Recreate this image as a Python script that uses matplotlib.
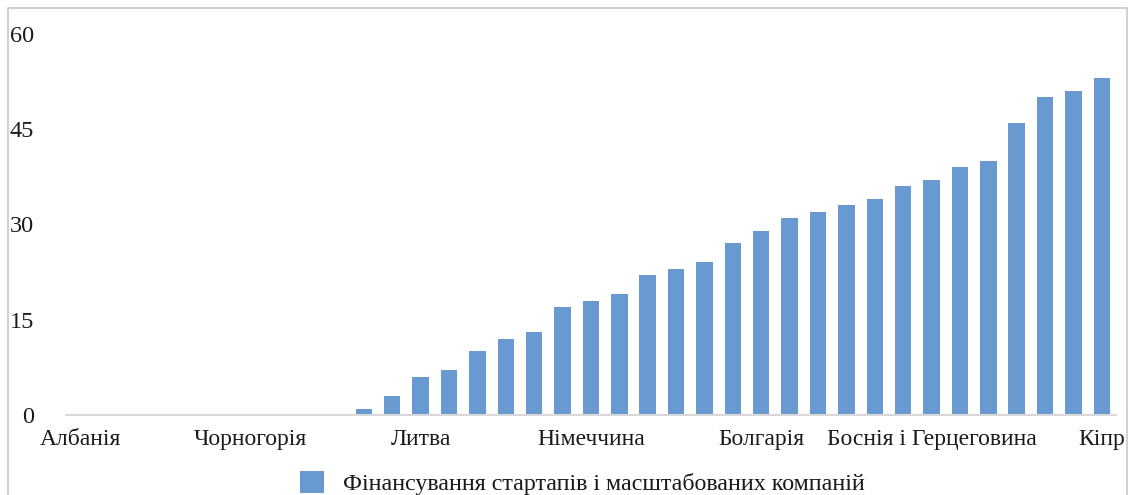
import matplotlib
matplotlib.use("Agg")
import matplotlib.pyplot as plt
from matplotlib.patches import Rectangle, Patch

# Number of countries on the axis; every sixth one carries a name
n_countries = 37
values = [0, 0, 0, 0, 0, 0, 0, 0, 0, 0,
          1, 3, 6, 7, 10, 12, 13, 17, 18, 19,
          22, 23, 24, 27, 29, 31, 32, 33, 34, 36,
          37, 39, 40, 46, 50, 51, 53]
tick_labels = ["Албанія", "Чорногорія", "Литва", "Німеччина",
               "Болгарія", "Боснія і Герцеговина", "Кіпр"]
tick_step = 6
y_ticks = [0, 15, 30, 45, 60]
series_name = "Фінансування стартапів і масштабованих компаній"

bar_color = "#6899d0"
text_color = "#1a1a1a"
font = ["Liberation Serif", "DejaVu Serif"]
plt.rcParams["font.family"] = font

W, H = 1136, 495
fig = plt.figure(figsize=(W / 100, H / 100), dpi=100)

# axes placed in pixel terms
left_px, right_px = 65.8, 1116.0
bottom_px, top_px = 415.0, 33.5
ax = fig.add_axes([left_px / W, (H - bottom_px) / H,
                   (right_px - left_px) / W, (bottom_px - top_px) / H])

x = list(range(n_countries))
ax.bar(x, values, width=0.58, color=bar_color, zorder=2)

ax.set_xlim(-0.5, n_countries - 0.5)
ax.set_ylim(0, 60)
ax.set_yticks(y_ticks)
ax.set_yticklabels([str(v) for v in y_ticks], fontsize=17.5, color=text_color)
ax.set_xticks(x[::tick_step])
ax.set_xticklabels(tick_labels, fontsize=17, color=text_color)
ax.tick_params(axis="both", length=0)
ax.tick_params(axis="y", pad=23)
ax.tick_params(axis="x", pad=10)

for side in ("top", "right", "left"):
    ax.spines[side].set_visible(False)
ax.spines["bottom"].set_color("#d9d9d9")
ax.spines["bottom"].set_linewidth(1.5)

# legend at the bottom
handle = Patch(facecolor=bar_color, edgecolor="none")
fig.legend([handle], [series_name], loc="center",
           bbox_to_anchor=(582 / W, (H - 483) / H), frameon=False,
           fontsize=17.3, handlelength=1.0, handleheight=1.0,
           handletextpad=0.8, labelcolor=text_color)

# chart-area border
border = Rectangle((8 / W, -0.05), (1127 - 8) / W, (H - 8) / H + 0.05,
                   transform=fig.transFigure, fill=False,
                   edgecolor="#c8c8c8", linewidth=1.2)
fig.patches.append(border)

fig.savefig("out.png", dpi=100)
